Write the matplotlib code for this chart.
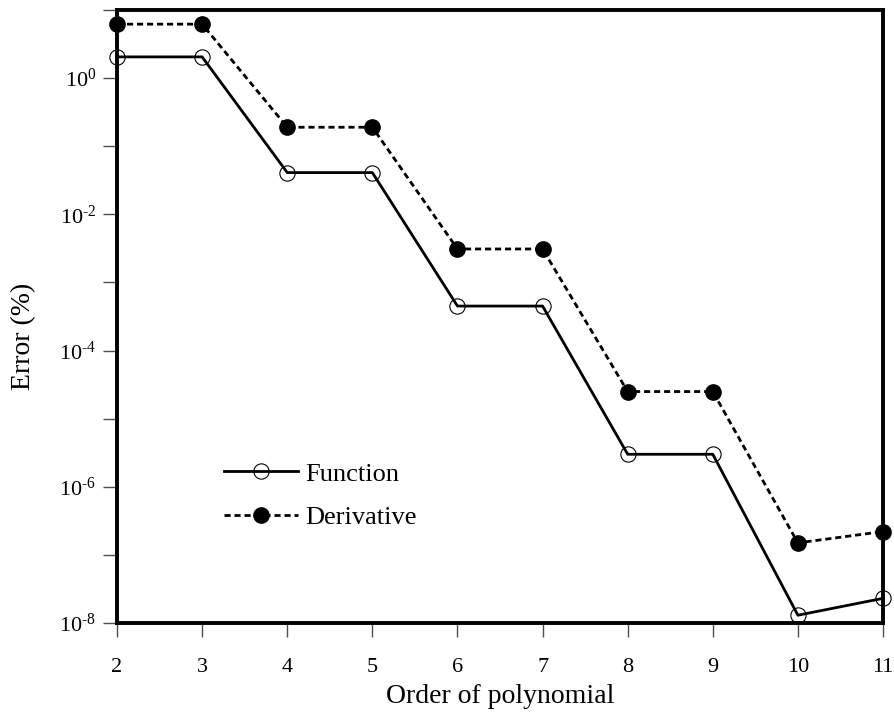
import numpy as np
import matplotlib.pyplot as plt
from matplotlib.ticker import NullLocator

plt.rcParams['font.family'] = ['Liberation Serif', 'DejaVu Serif']
plt.rcParams['mathtext.fontset'] = 'custom'
plt.rcParams['mathtext.rm'] = 'Liberation Serif'
plt.rcParams['mathtext.it'] = 'Liberation Serif:italic'
plt.rcParams['mathtext.bf'] = 'Liberation Serif:bold'

order = [2, 3, 4, 5, 6, 7, 8, 9, 10, 11]
function_err = [2.05, 2.05, 0.041, 0.041, 4.5e-4, 4.5e-4, 3.0e-6, 3.0e-6, 1.3e-8, 2.3e-8]
derivative_err = [6.2, 6.2, 0.19, 0.19, 3.1e-3, 3.1e-3, 2.5e-5, 2.5e-5, 1.5e-7, 2.2e-7]
decades = list(range(-8, 2))
decade_labels = ['$10^{\\text{-}8}$', '', '$10^{\\text{-}6}$', '', '$10^{\\text{-}4}$', '',
                 '$10^{\\text{-}2}$', '', '$10^{0}$', '']

fig = plt.figure(figsize=(8.94, 7.15), dpi=100)
ax = fig.add_axes([0.1309, 0.1287, 0.8568, 0.8573])

ax.plot(order, function_err, color='black', linestyle='-', linewidth=2.0,
        marker='o', markersize=11, markerfacecolor='none', markeredgecolor='black',
        markeredgewidth=0.8, label='Function', clip_on=False, zorder=3)
ax.plot(order, derivative_err, color='black', linestyle=(0, (2.2, 1.4)), linewidth=2.0,
        marker='o', markersize=11, markerfacecolor='black', markeredgecolor='black',
        label='Derivative', clip_on=False, zorder=3)

ax.set_yscale('log')
ax.set_ylim(1e-8, 1e1)
ax.set_xlim(2, 11)
ax.set_xticks(order)
ax.set_yticks([10.0 ** k for k in decades])
ax.set_yticklabels(decade_labels)
ax.yaxis.set_minor_locator(NullLocator())

ax.tick_params(axis='both', direction='out', length=10, width=1, color='0.3', labelsize=16)
ax.tick_params(axis='x', pad=15)
ax.tick_params(axis='y', pad=5)
for s in ax.spines.values():
    s.set_linewidth(2.8)

ax.set_xlabel('Order of polynomial', fontsize=20, labelpad=5)
ax.set_ylabel('Error (%)', fontsize=20)
ax.yaxis.set_label_coords(-0.105, 0.468)

ax.legend(loc='upper left', bbox_to_anchor=(0.122, 0.284), frameon=False, fontsize=19,
          handlelength=2.8, handletextpad=0.3, labelspacing=0.75, borderpad=0)

fig.savefig('out.png', dpi=100)
